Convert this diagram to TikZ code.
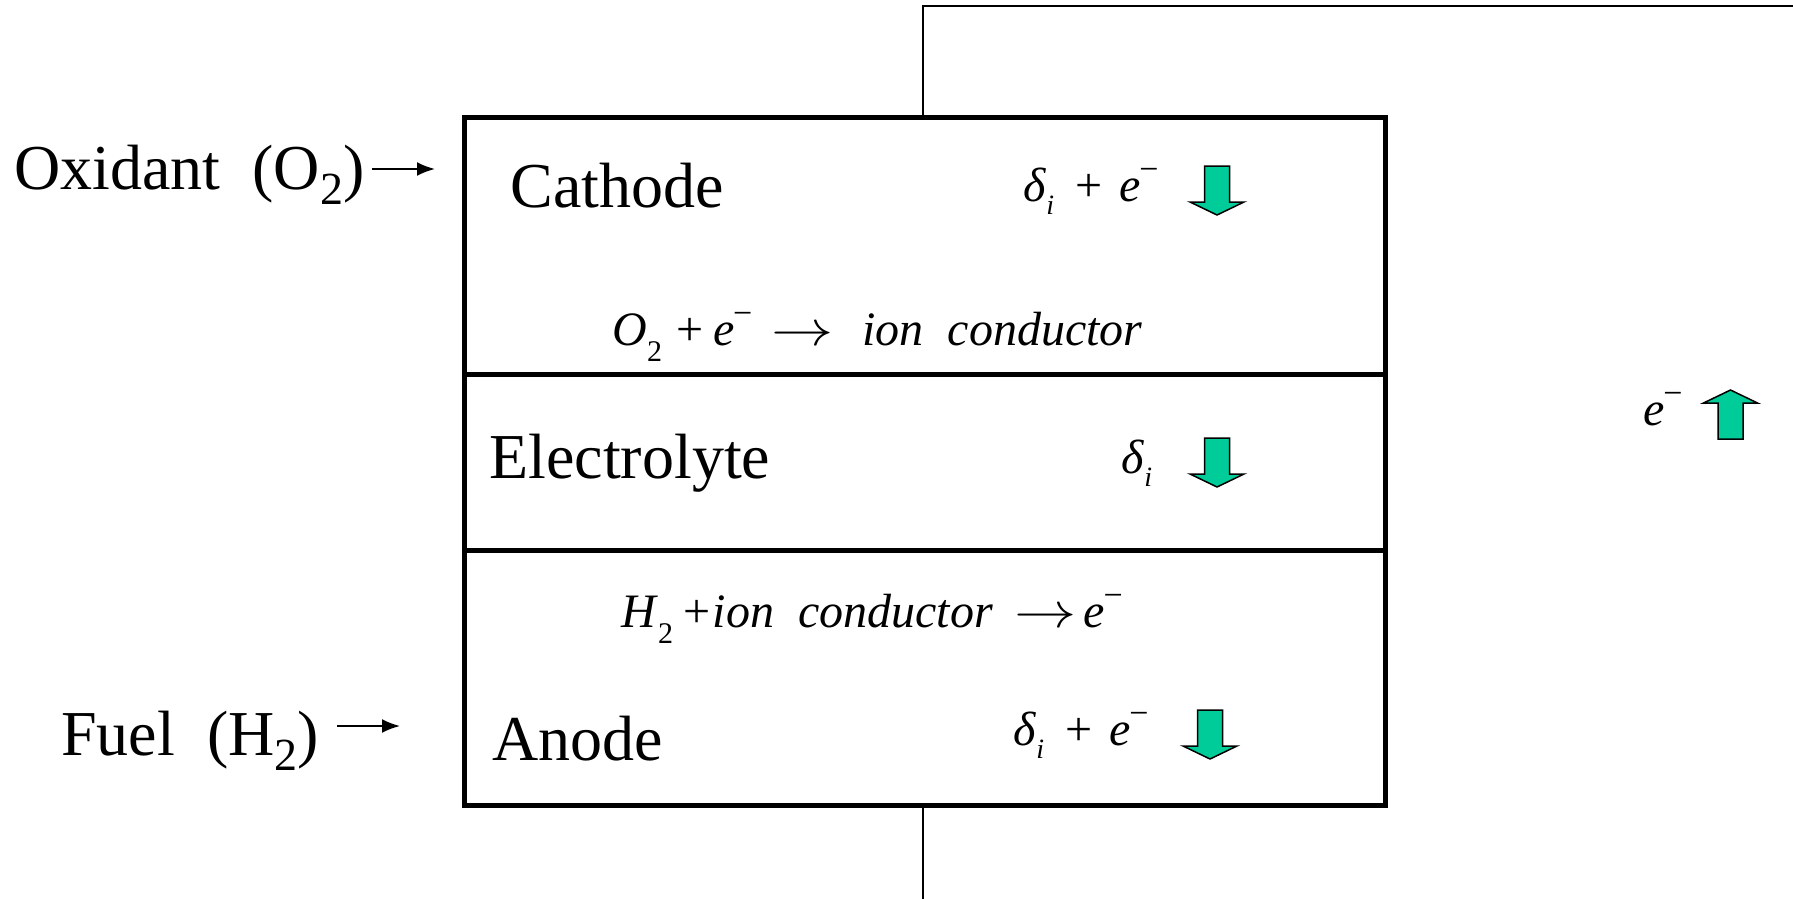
\documentclass[tikz,border=0pt]{standalone}
\usepackage{fontspec}
\setmainfont{Liberation Serif}
\usetikzlibrary{arrows.meta}
\definecolor{arrgreen}{RGB}{0,204,153}
\newcommand{\msubx}[1]{\raisebox{-0.34em}{\fontsize{15}{15}\selectfont #1}}
\newcommand{\msubi}[1]{\raisebox{-0.28em}{\fontsize{14}{14}\selectfont\itshape #1}}
\newcommand{\msupx}[1]{\hspace{-0.03em}\raisebox{0.42em}{\fontsize{17}{17}\selectfont #1}}
\newcommand{\tsubx}[1]{\raisebox{-0.24em}{\fontsize{23}{23}\selectfont #1}}
\newcommand{\rarr}{\scalebox{1.25}[1]{$\rightarrow$}}
\begin{document}
\begin{tikzpicture}[x=0.5pt,y=-0.5pt,
  bigtxt/.style={font=\fontsize{32}{38}\selectfont, inner sep=0pt, anchor=base west},
  mathtxt/.style={font=\fontsize{24}{28}\selectfont, inner sep=0pt, anchor=base west},
  layer/.style={draw=black, line width=2.5pt, inner sep=0pt, outer sep=0pt, anchor=north west, minimum width=460.5pt},
  wire/.style={draw=black, line width=1.25pt},
  feed/.style={line width=1pt, -{Latex[length=9pt,width=7pt]}},
  greenarrow/.style={draw=black, fill=arrgreen, line width=0.75pt, line join=miter},
  pics/downarrow/.style={code={\path[greenarrow] (-12.5,0) -- (12.5,0) -- (12.5,36) -- (27,36) -- (0,49) -- (-27,36) -- (-12.5,36) -- cycle;}},
  pics/uparrow/.style={code={\path[greenarrow] (-12.5,49) -- (12.5,49) -- (12.5,13) -- (27,13) -- (0,0) -- (-27,13) -- (-12.5,13) -- cycle;}}
]
\useasboundingbox (0,0) rectangle (1793,899);
% layers
\node[layer, minimum height=128.25pt] (cath) at (464.5,118) {};
\node[layer, minimum height=87.75pt] (elec) at (464.5,374.5) {};
\node[layer, minimum height=127.5pt] (anod) at (464.5,550) {};
% external wire
\coordinate (wtop) at (1793,6);
\coordinate (wbot) at (923,899);
\draw[wire] ([xshift=-1pt]cath.north) -- ([xshift=-1pt]cath.north |- wtop) -- (wtop);
\draw[wire] ([xshift=-1pt]anod.south) -- ([xshift=-1pt]anod.south |- wbot);
% feeds
\node[bigtxt] (oxid) at (14,189) {Oxidant\ \ (O\tsubx{2})};
\node[bigtxt] (fuel) at (61,755) {Fuel\ \ (H\tsubx{2})};
\coordinate (oxA) at (372,169);
\coordinate (oxB) at (435,169);
\coordinate (fuA) at (337,726);
\coordinate (fuB) at (400,726);
\draw[feed] (oxA) -- (oxB);
\draw[feed] (fuA) -- (fuB);
% layer names
\node[bigtxt] (tcath) at (510,207) {Cathode};
\node[bigtxt] (telec) at (489,478) {Electrolyte};
\node[bigtxt] (tanod) at (492,760) {Anode};
% reactions
\node[mathtxt] (rcath) at (612,345) {\textit{O}\msubx{2}\hspace{0.3em}+\hspace{0.2em}\textit{e}\msupx{−}\hspace{0.4em}\rarr\hspace{0.6em}\textit{ion\ \ conductor}};
\node[mathtxt] (ranod) at (621,627) {\textit{H}\msubx{2}\hspace{0.22em}+\hspace{0.04em}\textit{ion\ \ conductor}\hspace{0.45em}\rarr\hspace{0.15em}\textit{e}\msupx{−}};
% carriers
\node[mathtxt] (ccath) at (1023,201) {\textit{δ}\msubi{i}\hspace{0.45em}+\hspace{0.35em}\textit{e}\msupx{−}};
\node[mathtxt] (celec) at (1121,473) {\textit{δ}\msubi{i}};
\node[mathtxt] (canod) at (1013,745) {\textit{δ}\msubi{i}\hspace{0.45em}+\hspace{0.35em}\textit{e}\msupx{−}};
\node[mathtxt] (cwire) at (1643,425) {\textit{e}\msupx{−}};
\pic at (1217,166) {downarrow};
\pic at (1217,438) {downarrow};
\pic at (1210,710) {downarrow};
\pic at (1730.5,390) {uparrow};
\end{tikzpicture}
\end{document}
